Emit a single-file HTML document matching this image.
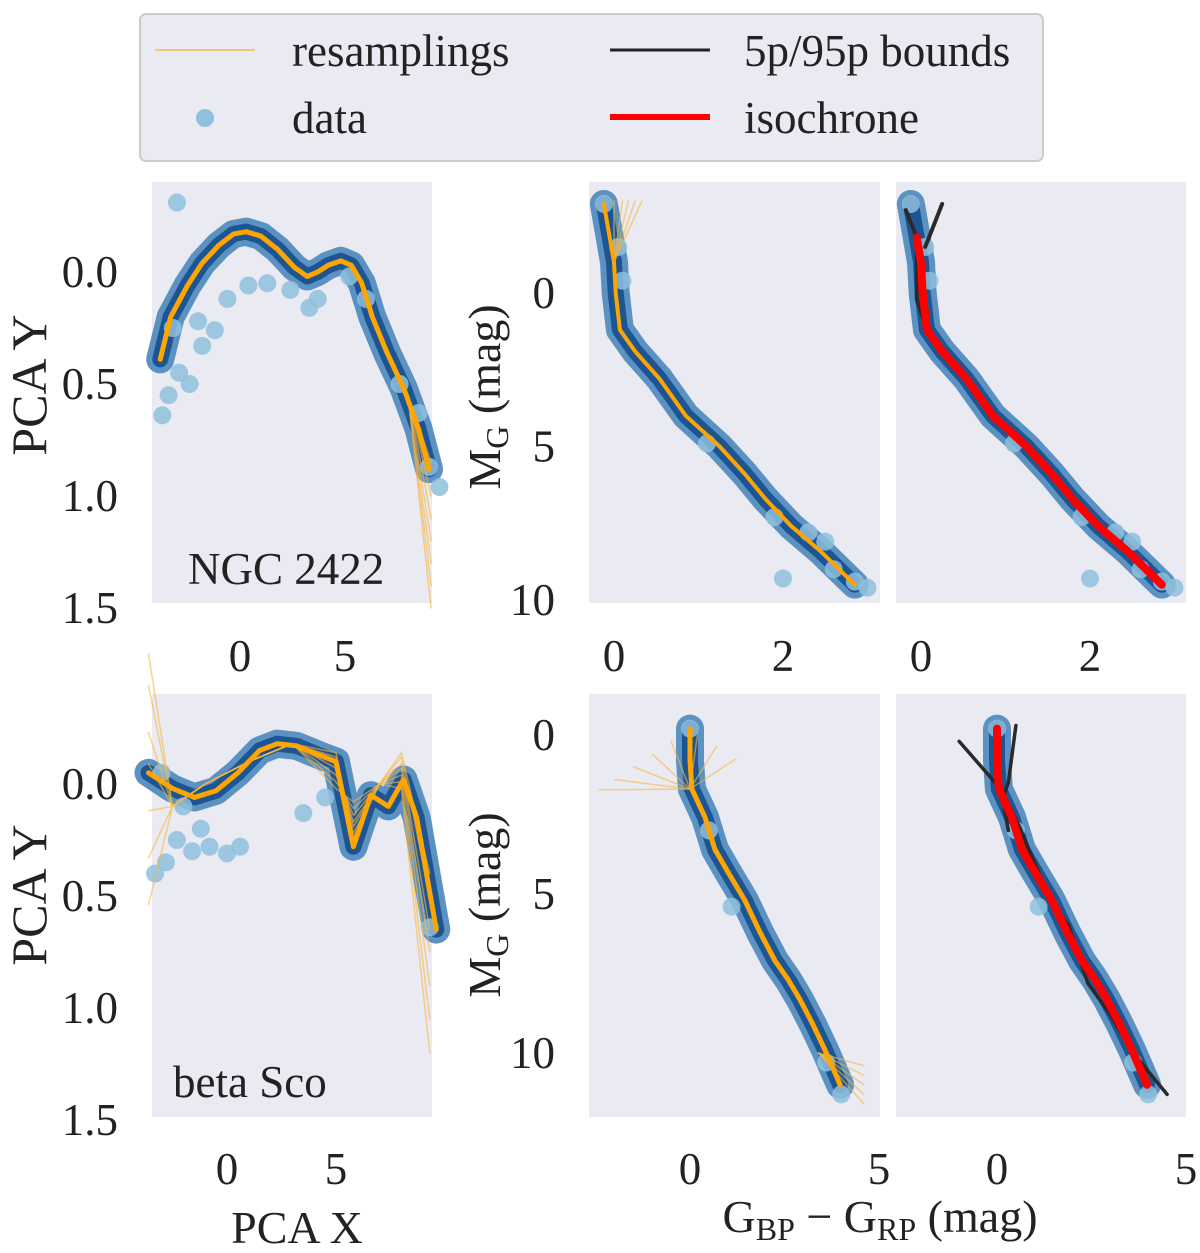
<!DOCTYPE html>
<html><head><meta charset="utf-8"><style>
body{margin:0;background:#fff}
svg{display:block}
text{font-family:"Liberation Serif",serif;fill:#222}
</style></head><body>
<svg id="s" width="1200" height="1253" viewBox="0 0 1200 1253" xmlns="http://www.w3.org/2000/svg"></svg>
<script>
// ---- data ----
const curveA_x=[-3.8,-3.3,-2.5,-1.8,-1,-0.3,0.3,1,1.8,2.6,3.2,3.7,4.2,4.8,5.3,5.8,6.3,7,7.8,8.5,9.0];
const curveA_y=[0.39,0.2,0.06,-0.04,-0.12,-0.17,-0.18,-0.16,-0.1,-0.02,0.02,0.0,-0.03,-0.05,-0.03,0.05,0.2,0.36,0.52,0.7,0.88];
const lightA_x=[-3.7,-3.4,-2.9,-2.4,-1.8,-1.2,-0.6,0.4,1.3,2.4,3.3,3.7,-3.0,5.2,6.0,7.6,8.5,9.0,9.5,-3.2,-2.0];
const lightA_y=[0.64,0.55,0.45,0.5,0.33,0.26,0.12,0.06,0.05,0.08,0.16,0.12,-0.31,0.02,0.12,0.5,0.63,0.87,0.96,0.25,0.22];
const curveB_c=[-0.12,-0.05,0.0,0.02,0.07,0.25,0.54,0.85,1.25,1.55,1.79,2.1,2.44,2.85];
const curveB_m=[-2.9,-1.8,-1.0,0.0,1.2,1.9,2.8,4.0,5.0,5.9,6.7,7.6,8.4,9.5];
const lightB_c=[-0.12,0.05,0.1,2.0,2.6,2.85,3.0,1.9,2.3,2.5,1.1];
const lightB_m=[-2.9,-1.5,-0.4,9.3,9.0,9.4,9.6,7.3,7.8,8.1,4.9];
const lowC_c=[-0.18,-0.05,-0.05];
const lowC_m=[-2.7,-1.8,0.2];
const upC_c=[0.25,0.05];
const upC_m=[-2.9,-1.5];
const curveD_x=[-3.6,-2.5,-1.5,-0.5,0.5,1.5,2.3,3.2,4.2,5.0,5.8,6.6,7.4,8.1,8.7,9.6];
const curveD_y=[-0.05,0.02,0.06,0.03,-0.05,-0.15,-0.18,-0.17,-0.13,-0.1,0.28,0.05,0.1,-0.02,0.15,0.65];
const lightD_x=[-3.3,-2.8,-2.3,-1.6,-0.8,0.0,0.6,-2.0,-1.2,3.5,4.5,9.3,-3.0];
const lightD_y=[0.4,0.35,0.25,0.3,0.28,0.31,0.28,0.1,0.2,0.13,0.06,0.64,-0.05];
const curveE_c=[0,0.0,0.05,0.4,0.66,1.0,1.45,1.85,2.25,2.6,2.9,3.25,3.57,3.97];
const curveE_m=[-0.2,0.8,1.7,2.6,3.6,4.3,5.2,6.2,7.1,7.7,8.3,9.1,9.9,11.0];
const lowF_c=[-1.0,0.1,0.6,1.4,1.9,2.4,3.0,3.6,4.5];
const lowF_m=[0.2,1.7,2.9,5.2,6.0,7.8,8.8,10.0,11.3];
const upF_c=[0.5,0.3,0.15,0.3];
const upF_m=[-0.3,1.5,2.0,3.0];
const fanA_dy=[-0.1,0.05,0.15,0.25,0.35,0.45,0.55];
const fanB_dc=[-0.05,0.05,0.12,0.2,0.28];
const fanE_top=[-2.4,-2.0,-1.5,-1.0,-0.5,0.2,0.7,1.2];
const fanE_bot=[-0.6,-0.3,0,0.3,0.6];
const fanD_dy=[-0.4,-0.2,0.1,0.3,0.6,0.9,1.2];

// ---- helpers ----
const S=document.getElementById('s');const NS='http://www.w3.org/2000/svg';
function mk(tag,attrs,name,parent){const el=document.createElementNS(NS,tag);for(const k in attrs)el.setAttribute(k,attrs[k]);


(parent||S).appendChild(el);return el;}
function ax(p){return{X:v=>p.x0+v*p.sx,Y:v=>p.y0+v*p.sy}}
function poly(p,xs,ys,style,name){const a=ax(p);mk('polyline',Object.assign({points:xs.map((v,i)=>a.X(v)+','+a.Y(ys[i])).join(' '),fill:'none','stroke-linejoin':'round','stroke-linecap':'round'},style),name);}
function dots(p,xs,ys,col,name){const a=ax(p);xs.forEach((v,i)=>mk('circle',{cx:a.X(v),cy:a.Y(ys[i]),r:9,fill:col,opacity:0.85},name));}
function band(p,xs,ys,name){poly(p,xs,ys,{stroke:'#5b92c2','stroke-width':28},name+'-outer');poly(p,xs,ys,{stroke:'#1d5592','stroke-width':16},name);}
function txt(x,y,s,name,extra){const t=mk('text',Object.assign({x:x,y:y,'font-size':45},extra||{}),name);t.textContent=s;return t;}

// legend
mk('rect',{x:140,y:14,width:903,height:147,rx:6,fill:'#eaeaf2',stroke:'#cccccc','stroke-width':2},'legend-box');
mk('line',{x1:155,y1:50,x2:255,y2:50,stroke:'#f5b942','stroke-width':2,opacity:0.7},'legend-resamplings-line');
txt(292,66,'resamplings','legend-resamplings');
mk('circle',{cx:205,cy:118,r:9,fill:'#8fc0dd'},'legend-data-dot');
txt(292,133,'data','legend-data');
mk('line',{x1:610,y1:50,x2:710,y2:50,stroke:'#222','stroke-width':3},'legend-bounds-line');
txt(744,66,'5p/95p bounds','legend-bounds');
mk('line',{x1:610,y1:117,x2:710,y2:117,stroke:'#ff0000','stroke-width':6},'legend-isochrone-line');
txt(744,133,'isochrone','legend-isochrone');

// panels
const PA={x0:240,sx:21,y0:272,sy:224},PB={x0:614,sx:84.5,y0:293,sy:30.7},PC={x0:921,sx:84.5,y0:293,sy:30.7};
const PD={x0:227,sx:21.8,y0:784,sy:224},PE={x0:690,sx:37.8,y0:735,sy:31.8},PF={x0:997,sx:37.8,y0:735,sy:31.8};
[[152,182,280,421,'panel-a'],[589,182,291,421,'panel-b'],[896,182,290,421,'panel-c'],[152,694,280,423,'panel-d'],[589,694,291,423,'panel-e'],[896,694,290,423,'panel-f']].forEach(r=>mk('rect',{x:r[0],y:r[1],width:r[2],height:r[3],fill:'#eaeaf2'},r[4]));

const OR={stroke:'#ffa500','stroke-width':5};
const ORT={stroke:'#f8b640','stroke-width':1.5,opacity:0.6};
// A
band(PA,curveA_x,curveA_y,'scatter-band-a');dots(PA,lightA_x,lightA_y,'#8fc0dd','data-point-a');
fanA_dy.forEach(d=>poly(PA,[8.0,9.1],[0.55,0.95+d],ORT,'resampling-a'));
poly(PA,curveA_x,curveA_y,OR,'resampling-mean-a');
// B
band(PB,curveB_c,curveB_m,'scatter-band-b');dots(PB,lightB_c,lightB_m,'#8fc0dd','data-point-b');
fanB_dc.forEach(d=>poly(PB,[0.0,d+0.05],[-1.0,-3.0],ORT,'resampling-b'));
poly(PB,curveB_c,curveB_m,{stroke:'#ffa500','stroke-width':4},'resampling-mean-b');
// C
band(PC,curveB_c,curveB_m,'scatter-band-c');dots(PC,lightB_c,lightB_m,'#8fc0dd','data-point-c');
poly(PC,lowC_c.concat(curveB_c.slice(4)),lowC_m.concat(curveB_m.slice(4)),{stroke:'#2a2a2a','stroke-width':4},'bound-lower-c');
poly(PC,upC_c,upC_m,{stroke:'#2a2a2a','stroke-width':4},'bound-upper-c');
poly(PC,curveB_c.slice(1),curveB_m.slice(1),{stroke:'#ff0000','stroke-width':8},'isochrone-c');
// D
band(PD,curveD_x,curveD_y,'scatter-band-d');dots(PD,lightD_x,lightD_y,'#8fc0dd','data-point-d');
fanD_dy.forEach(d=>poly(PD,[-3.6,-2.5,-1,1,3,5,5.8,7,8,9.3],[-0.3+d*0.7,0.1,0.0,-0.1,-0.18,-0.1+d*0.1,0.2-d*0.1,0.0,-0.1+d*0.1,0.6+d*0.5],ORT,'resampling-d'));
poly(PD,curveD_x,curveD_y,OR,'resampling-mean-d');
// E
band(PE,curveE_c,curveE_m,'scatter-band-e');dots(PE,[0,0.5,1.1,3.6,4.0],[-0.2,3.0,5.4,10.3,11.3],'#8fc0dd','data-point-e');
fanE_top.forEach(d=>poly(PE,[0,d],[1.7,-0.2+Math.abs(d)*0.8],ORT,'resampling-e'));
fanE_bot.forEach(d=>poly(PE,[3.4,4.6],[10.0,11.0+d],ORT,'resampling-e'));
poly(PE,curveE_c,curveE_m,OR,'resampling-mean-e');
// F
band(PF,curveE_c,curveE_m,'scatter-band-f');dots(PF,[0,0.5,1.1,3.6,4.0],[-0.2,3.0,5.4,10.3,11.3],'#8fc0dd','data-point-f');
poly(PF,lowF_c,lowF_m,{stroke:'#2a2a2a','stroke-width':3.5},'bound-lower-f');
poly(PF,upF_c,upF_m,{stroke:'#2a2a2a','stroke-width':3.5},'bound-upper-f');
poly(PF,curveE_c,curveE_m,{stroke:'#ff0000','stroke-width':8},'isochrone-f');

// ticks
function yt(p,x,vals,labs,name){const a=ax(p);vals.forEach((v,i)=>txt(x,a.Y(v)+15,labs[i],name,{'text-anchor':'end'}));}
function xt(p,y,vals,labs,name){const a=ax(p);vals.forEach((v,i)=>txt(a.X(v),y,labs[i],name,{'text-anchor':'middle'}));}
yt(PA,118,[0,0.5,1,1.5],['0.0','0.5','1.0','1.5'],'y-tick-a');
yt(PD,118,[0,0.5,1,1.5],['0.0','0.5','1.0','1.5'],'y-tick-d');
yt(PB,555,[0,5,10],['0','5','10'],'y-tick-b');
yt(PE,555,[0,5,10],['0','5','10'],'y-tick-e');
xt(PA,671,[0,5],['0','5'],'x-tick-a');xt(PB,671,[0,2],['0','2'],'x-tick-b');xt(PC,671,[0,2],['0','2'],'x-tick-c');
xt(PD,1184,[0,5],['0','5'],'x-tick-d');xt(PE,1184,[0,5],['0','5'],'x-tick-e');xt(PF,1184,[0,5],['0','5'],'x-tick-f');
txt(188,584,'NGC 2422','label-ngc2422');txt(173,1097,'beta Sco','label-beta-sco');
txt(0,0,'PCA Y','y-axis-title-a',{transform:'translate(46,385) rotate(-90)','text-anchor':'middle','font-size':50});
txt(0,0,'PCA Y','y-axis-title-d',{transform:'translate(46,895) rotate(-90)','text-anchor':'middle','font-size':50});
const m1=txt(0,0,'','y-axis-title-b',{transform:'translate(500,397) rotate(-90)','text-anchor':'middle','font-size':46});
m1.innerHTML='M<tspan font-size="32" dy="8">G</tspan><tspan dy="-8"> (mag)</tspan>';
const m2=txt(0,0,'','y-axis-title-e',{transform:'translate(500,905) rotate(-90)','text-anchor':'middle','font-size':46});
m2.innerHTML='M<tspan font-size="32" dy="8">G</tspan><tspan dy="-8"> (mag)</tspan>';
txt(297,1243,'PCA X','x-axis-title-pca',{'text-anchor':'middle','font-size':46});
const g=txt(880,1232,'','x-axis-title-color',{'text-anchor':'middle','font-size':46});
g.innerHTML='G<tspan font-size="32" dy="8">BP</tspan><tspan dy="-8"> − G</tspan><tspan font-size="32" dy="8">RP</tspan><tspan dy="-8"> (mag)</tspan>';
</script>
</body></html>
